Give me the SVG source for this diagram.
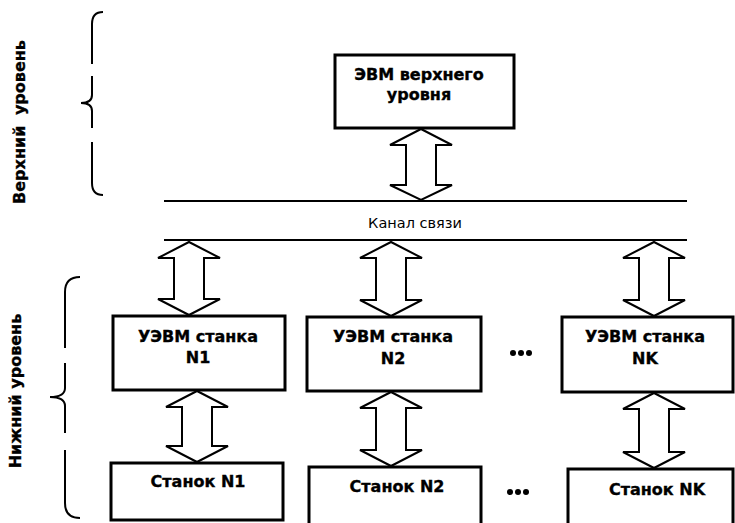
<svg xmlns="http://www.w3.org/2000/svg" width="735" height="523" viewBox="0 0 735 523">
  <style>
    .box { fill: #fff; stroke: #000; stroke-width: 3; }
    .lbl { font-family: "DejaVu Sans", Verdana, sans-serif; font-weight: bold; font-size: 16px; fill: #000; stroke: #000; stroke-width: 0.35; text-anchor: middle; }
    .bus { stroke: #000; stroke-width: 2.2; fill: none; }
    .arr { fill: #fff; stroke: #000; stroke-width: 2; stroke-linejoin: miter; }
    .brace { fill: none; stroke: #000; stroke-width: 2; }
    .side { font-family: "DejaVu Sans", Verdana, sans-serif; font-weight: bold; font-size: 16px; fill: #000; stroke: #000; stroke-width: 0.35; text-anchor: middle; }
    .chan { font-family: "DejaVu Sans", Verdana, sans-serif; font-size: 14.5px; fill: #000; text-anchor: middle; }
  </style>
  <rect width="735" height="523" fill="#fff"/>

  <!-- level braces and labels -->
  <g id="upper-level">
    <path class="brace" d="M103,12 Q92,12 92,24 L92,64 M92,76 L92,95 Q92,103 81,103 Q92,103 92,111 L92,128 M92,142 L92,183 Q92,195 103,195"/>
    <text class="side" transform="translate(25,122) rotate(-90)">Верхний<tspan dx="5"> уровень</tspan></text>
  </g>
  <g id="lower-level">
    <path class="brace" d="M80,277 Q65,277 65,292 L65,348 M65,363 L65,388 Q65,397 50,397 Q65,397 65,406 L65,433 M65,450 L65,503 Q65,518 80,518"/>
    <text class="side" transform="translate(21,391) rotate(-90)">Нижний уровень</text>
  </g>

  <!-- communication channel -->
  <g id="channel">
    <line class="bus" x1="164" y1="201" x2="687" y2="201"/>
    <line class="bus" x1="164" y1="240" x2="687" y2="240"/>
    <text class="chan" x="415" y="228">Канал связи</text>
  </g>

  <!-- nodes -->
  <g id="host">
    <rect class="box" x="335" y="55" width="179" height="73"/>
    <text class="lbl" x="419" y="80">ЭВМ верхнего</text>
    <text class="lbl" x="419" y="100">уровня</text>
  </g>
  <g id="ctrl-1">
    <rect class="box" x="113" y="316" width="172" height="74"/>
    <text class="lbl" x="198" y="342">УЭВМ станка</text>
    <text class="lbl" x="198" y="363">N1</text>
  </g>
  <g id="ctrl-2">
    <rect class="box" x="307" y="317" width="174" height="74"/>
    <text class="lbl" x="393" y="342">УЭВМ станка</text>
    <text class="lbl" x="393" y="364">N2</text>
  </g>
  <g id="ctrl-k">
    <rect class="box" x="562" y="317" width="171" height="75"/>
    <text class="lbl" x="645" y="342">УЭВМ станка</text>
    <text class="lbl" x="645" y="364">NK</text>
  </g>
  <g id="machine-1">
    <rect class="box" x="111" y="463" width="172" height="57"/>
    <text class="lbl" x="198" y="487">Станок N1</text>
  </g>
  <g id="machine-2">
    <rect class="box" x="309" y="467" width="172" height="70"/>
    <text class="lbl" x="397" y="492">Станок N2</text>
  </g>
  <g id="machine-k">
    <rect class="box" x="568" y="469" width="165" height="70"/>
    <text class="lbl" x="657" y="495">Станок NK</text>
  </g>

  <!-- ellipses between columns -->
  <g id="ellipsis-ctrl" fill="#000">
    <circle cx="513" cy="353" r="3"/>
    <circle cx="521" cy="353" r="3"/>
    <circle cx="529" cy="353" r="3"/>
  </g>
  <g id="ellipsis-machine" fill="#000">
    <circle cx="510" cy="492" r="3"/>
    <circle cx="518" cy="492" r="3"/>
    <circle cx="526" cy="492" r="3"/>
  </g>

  <!-- connectors: double-headed block arrows -->
  <g id="connectors">
    <polygon class="arr" points="421,129 452,145 436,145 436,185 452,185 421,200 390,185 406,185 406,145 390,145"/>
    <polygon class="arr" points="189,242 220,258 204,258 204,299 220,299 189,315 158,299 174,299 174,258 158,258"/>
    <polygon class="arr" points="391,242 422,258 406,258 406,300 422,300 391,316 360,300 376,300 376,258 360,258"/>
    <polygon class="arr" points="654,242 685,258 669,258 669,300 685,300 654,316 623,300 639,300 639,258 623,258"/>
    <polygon class="arr" points="197,391 228,407 212,407 212,446 228,446 197,462 166,446 182,446 182,407 166,407"/>
    <polygon class="arr" points="391,392 422,408 406,408 406,450 422,450 391,466 360,450 376,450 376,408 360,408"/>
    <polygon class="arr" points="654,393 685,409 669,409 669,452 685,452 654,468 623,452 639,452 639,409 623,409"/>
  </g>
</svg>
